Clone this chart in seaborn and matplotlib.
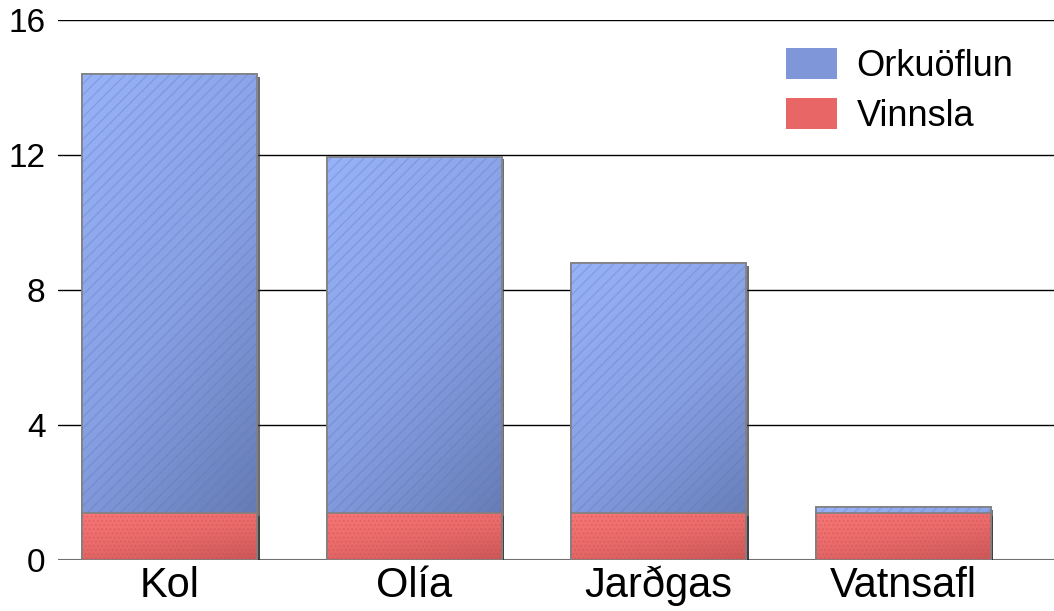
import numpy as np
import pandas as pd
import seaborn as sns
import matplotlib.pyplot as plt
import matplotlib.patheffects as pe
from matplotlib.patches import Rectangle, Patch
from matplotlib.colors import LinearSegmentedColormap

categories = ["Kol", "Olía", "Jarðgas", "Vatnsafl"]
vinnsla = [1.4, 1.4, 1.4, 1.4]
orkuoflun = [13.0, 10.55, 7.4, 0.17]
yticks = [0, 4, 8, 12, 16]

df = pd.DataFrame({"flokkur": categories, "vinnsla": vinnsla, "orkuoflun": orkuoflun})
df["samtals"] = df["vinnsla"] + df["orkuoflun"]

sns.set_theme(style="white")
plt.rcParams["font.family"] = ["Liberation Sans", "DejaVu Sans"]
plt.rcParams["text.color"] = "black"
plt.rcParams["xtick.color"] = "black"
plt.rcParams["ytick.color"] = "black"

fig = plt.figure(figsize=(10.54, 6.11), dpi=100)
ax = fig.add_axes([58 / 1054, 51 / 611, 996 / 1054, 540 / 611])

blue_cmap = LinearSegmentedColormap.from_list("b", ["#98b2f8", "#87a0e2", "#6277b0"])
red_cmap = LinearSegmentedColormap.from_list("r", ["#f87676", "#ea6a6a", "#cc5858"])

sns.barplot(data=df, x="flokkur", y="samtals", color="#8aa3e8", width=0.716,
            saturation=1, ax=ax, edgecolor="#808080", linewidth=1.2)
sns.barplot(data=df, x="flokkur", y="vinnsla", color="#ee6a6a", width=0.716,
            saturation=1, ax=ax, edgecolor="#808080", linewidth=1.2)

gx, gy = np.meshgrid(np.linspace(0, 1, 60), np.linspace(0, 1, 60))
grad = 0.35 * gx + 0.65 * gy
n = len(categories)
for i, bar in enumerate(ax.patches):
    cmap = blue_cmap if i < n else red_cmap
    hatch_col = (0.35, 0.45, 0.75, 0.3) if i < n else (0.75, 0.3, 0.3, 0.3)
    bar.set_path_effects([pe.SimplePatchShadow(offset=(2, -2), shadow_rgbFace="#303030", alpha=0.7),
                          pe.Normal()])
    x0, y0 = bar.get_x(), bar.get_y()
    w, h = bar.get_width(), bar.get_height()
    z = bar.get_zorder() + (0.5 if i >= n else 0)
    im = ax.imshow(grad, cmap=cmap, extent=(x0, x0 + w, y0, y0 + h), origin="upper",
                   aspect="auto", zorder=z + 0.1)
    im.set_clip_path(bar)
    ax.add_patch(Rectangle((x0, y0), w, h, fill=False, hatch="///" if i < n else "....",
                           edgecolor=hatch_col, linewidth=0, zorder=z + 0.2))
    ax.add_patch(Rectangle((x0, y0), w, h, fill=False, edgecolor="#808080", linewidth=1.2,
                           zorder=z + 0.3))

ax.set_xlim(-0.456, 3.617)
ax.set_ylim(0, 16)
ax.set_yticks(yticks)
ax.set_yticklabels([str(t) for t in yticks], fontsize=24)
ax.tick_params(axis="y", length=0, pad=9)
ax.tick_params(axis="x", length=0, pad=4, labelsize=30)
ax.set_xlabel("")
ax.set_ylabel("")
for t in yticks[1:]:
    ax.axhline(t, color="black", linewidth=1, zorder=0)
ax.axhline(0, color="#707070", linewidth=1.5, zorder=0.5)
for s in ax.spines.values():
    s.set_visible(False)

handles = [Patch(facecolor="#7f97d8", edgecolor="none"), Patch(facecolor="#e86666", edgecolor="none")]
ax.legend(handles, ["Orkuöflun", "Vinnsla"], loc="upper left",
          bbox_to_anchor=(786 / 1054, 1 - 48 / 611), bbox_transform=fig.transFigure,
          borderaxespad=0, borderpad=0, frameon=False, fontsize=26,
          handlelength=1.4, handleheight=0.95, handletextpad=0.55, labelspacing=0.38)

fig.savefig("out.png", dpi=100)
